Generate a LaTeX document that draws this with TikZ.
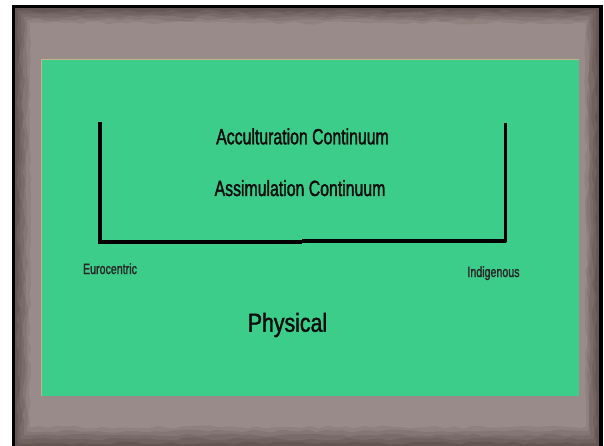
\documentclass[tikz,border=0pt]{standalone}
\usepackage{fontspec}
\newfontfamily\agency[FakeStretch=0.72,FakeBold=1.6]{Liberation Sans}
\newfontfamily\agencywide[FakeStretch=0.82,FakeBold=1.6]{Liberation Sans}
\usetikzlibrary{decorations.pathmorphing}
\definecolor{slidegreen}{RGB}{60,205,138}
\definecolor{paperdark}{RGB}{100,86,83}
\definecolor{paperlight}{RGB}{153,139,137}
\definecolor{greenedge}{RGB}{196,180,140}

\begin{document}
\begin{tikzpicture}[x=1pt,y=-1pt,
    axis line/.style={black, line width=3.8pt},
    torn/.style={decorate, decoration={random steps, segment length=9pt, amplitude=1.6pt}, rounded corners=1pt},
    title text/.style={font=\agency\fontsize{22}{22}\selectfont, anchor=base, text=black!95},
    end text/.style={font=\agency\fontsize{14.8}{15}\selectfont, anchor=base, text=black!85}]
  \useasboundingbox (0,0) rectangle (604,446);

  % paper frame
  \fill[white] (0,0) rectangle (604,446);
  \fill[black] (12,5) rectangle (603,446);
  \fill[paperdark] (15,8) rectangle (599,446);
  \pgfmathsetseed{7}
  \fill[torn, paperdark!80!paperlight] (18,11) rectangle (596,443);
  \fill[torn, paperdark!60!paperlight] (21,14) rectangle (593,439);
  \fill[torn, paperdark!40!paperlight] (24,17) rectangle (590,435);
  \fill[torn, paperdark!20!paperlight] (27,20) rectangle (588,431);
  \fill[torn, paperlight] (30,23) rectangle (586,427);

  % green slide
  \fill[slidegreen] (41,59) rectangle (579,396);
  \draw[greenedge, line width=1pt] (41.5,396) -- (41.5,59.5) -- (579,59.5);

  % the two continua
  \node[title text] (accult) at (302.5,144.3) {Acculturation Continuum};
  \node[title text] (assim) at (300,196) {Assimulation Continuum};

  % bracket
  \draw[axis line] (100,121.7) -- (100,241.6) -- (302,241.6);
  \draw[axis line, line join=round] (302,240.6) -- (505.5,240.6) -- (505.5,122.7);

  \node[end text] (euro) at (110,274) {Eurocentric};
  \node[end text] (indig) at (493.5,277) {Indigenous};

  \node[font=\agencywide\fontsize{26}{26}\selectfont, anchor=base, text=black!95] (phys) at (287.5,331.7) {Physical};
\end{tikzpicture}
\end{document}
